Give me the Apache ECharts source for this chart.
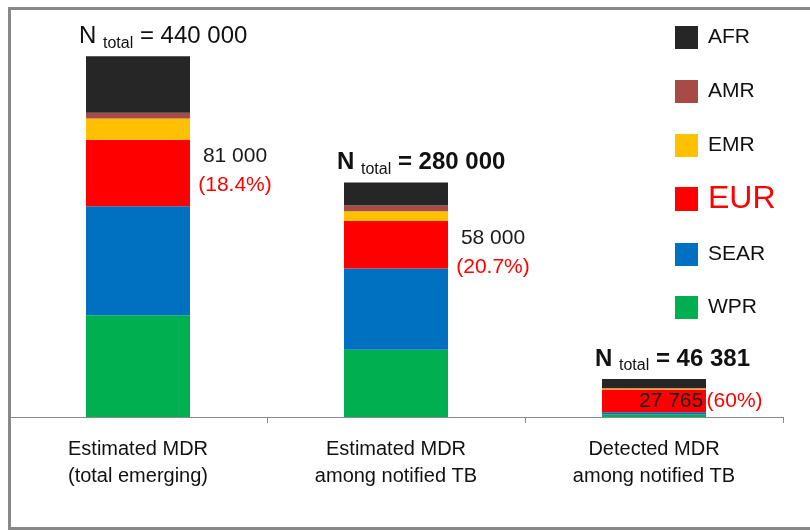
<!DOCTYPE html>
<html>
<head>
<meta charset="utf-8">
<script src="https://cdn.jsdelivr.net/npm/echarts@6/dist/echarts.min.js"></script>
<style>html,body{margin:0;padding:0;background:#fff}#c{width:810px;height:530px}</style>
</head>
<body>
<div id="c"></div>
<script>
var categories = ['Estimated MDR\n(total emerging)', 'Estimated MDR\namong notified TB', 'Detected MDR\namong notified TB'];
var legendOrder = ['AFR', 'AMR', 'EMR', 'EUR', 'SEAR', 'WPR'];
var AFR = [69000, 28000, 11016];
var AMR = [7000, 7000, 700];
var EMR = [26000, 12000, 1000];
var EUR = [81000, 58000, 27765];
var SEAR = [133000, 99000, 2900];
var WPR = [124000, 82000, 3000];
var totalLabels = ['440 000', '280 000', '46 381'];
var eurLabels = ['81 000', '58 000', '27 765'];
var eurPct = ['(18.4%)', '(20.7%)', '(60%)'];

var FONT = '"Liberation Sans", Arial, sans-serif';
var colors = {AFR: '#262626', AMR: '#A84A46', EMR: '#FFC000', EUR: '#FF0000', SEAR: '#0070C0', WPR: '#00B050'};
var legendTops = [26, 80, 134, 183, 243, 296];

var chart = echarts.init(document.getElementById('c'));

function mkSeries(name, values, label) {
  return {
    name: name, type: 'bar', stack: 'total', barWidth: 104,
    itemStyle: {color: colors[name]},
    data: values.map(function (v, i) {
      var d = {value: v};
      if (label) { var l = label(i); if (l) d.label = l; }
      return d;
    }),
    emphasis: {disabled: true}
  };
}

var eurLabel = function (i) {
  if (i < 2) {
    return {
      show: true, position: [149, '50%'], align: 'center', verticalAlign: 'middle',
      offset: i === 0 ? [0, -2] : [0, 8],
      formatter: '{b|' + eurLabels[i] + '}\n{r|' + eurPct[i] + '}',
      rich: {
        b: {fontFamily: FONT, fontSize: 21, color: '#1a1a1a', lineHeight: 29},
        r: {fontFamily: FONT, fontSize: 21, color: '#FF0000', lineHeight: 29}
      }
    };
  }
  return {
    show: true, position: [37, '50%'], align: 'left', verticalAlign: 'middle',
    formatter: '{b|' + eurLabels[i] + '} {r|' + eurPct[i] + '}',
    rich: {
      b: {fontFamily: FONT, fontSize: 21, color: '#1a1a1a'},
      r: {fontFamily: FONT, fontSize: 21, color: '#FF0000'}
    }
  };
};

var totalLabel = function (i) {
  return {
    show: true, position: [-7, -5], align: 'left', verticalAlign: 'bottom',
    formatter: '{n|N }{s|total}{n| = ' + totalLabels[i] + '}',
    rich: {
      n: {fontFamily: FONT, fontSize: 24, color: '#111', lineHeight: 30, fontWeight: i === 0 ? 'normal' : 'bold'},
      s: {fontFamily: FONT, fontSize: 16, color: '#111', lineHeight: 16, verticalAlign: 'bottom'}
    }
  };
};

var series = [
  mkSeries('WPR', WPR),
  mkSeries('SEAR', SEAR),
  mkSeries('EUR', EUR, eurLabel),
  mkSeries('EMR', EMR),
  mkSeries('AMR', AMR),
  mkSeries('AFR', AFR, totalLabel)
];

var legends = legendOrder.map(function (n, i) {
  var isEur = n === 'EUR';
  return {
    orient: 'vertical', left: 675, top: legendTops[i], padding: 0, icon: 'rect',
    itemWidth: 23, itemHeight: isEur ? 24 : 23,
    selectedMode: false,
    textStyle: {
      fontFamily: FONT, fontSize: isEur ? 32 : 21, color: isEur ? '#FF0000' : '#111',
      padding: [0, 0, 0, 5]
    },
    data: [n]
  };
});

chart.setOption({
  animation: false,
  backgroundColor: '#fff',
  grid: {left: 9, right: 27, top: 7, bottom: 113, containLabel: false},
  legend: legends,
  xAxis: {
    type: 'category', data: categories,
    axisLine: {lineStyle: {color: '#888', width: 1}},
    axisTick: {show: true, length: 6, interval: 0, lineStyle: {color: '#888'}},
    axisLabel: {fontFamily: FONT, fontSize: 20, color: '#111', lineHeight: 27, margin: 19, interval: 0}
  },
  yAxis: {type: 'value', min: 0, max: 500000, show: false, splitLine: {show: false}},
  series: series,
  graphic: [{
    type: 'rect', silent: true, z: 100,
    shape: {x: 9.5, y: 8.5, width: 830, height: 520},
    style: {fill: null, stroke: '#888', lineWidth: 3}
  }]
});
</script>
</body>
</html>
